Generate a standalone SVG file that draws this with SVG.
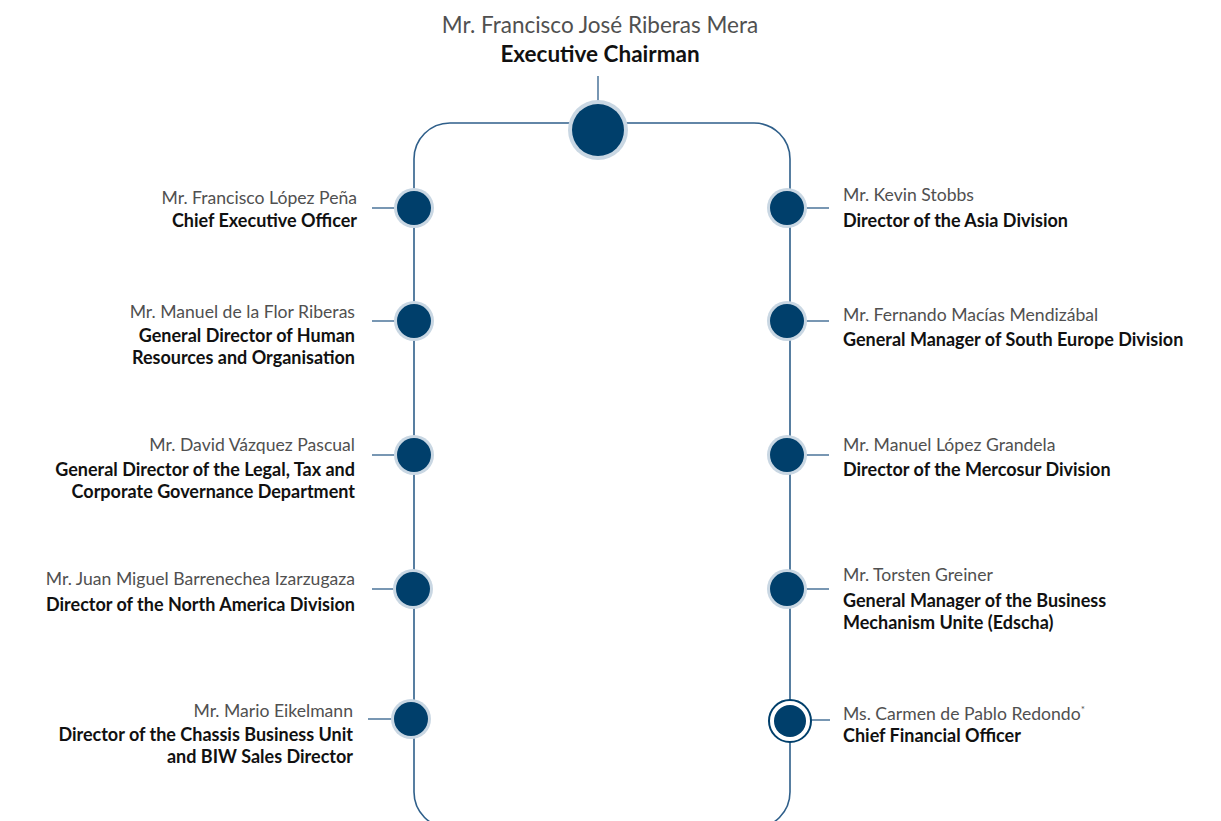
<svg xmlns="http://www.w3.org/2000/svg" width="1221" height="821" viewBox="0 0 1221 821">
  <style>
    .trunk { fill: none; stroke: #2f5f8a; stroke-width: 1.6; }
    .stub { stroke: #2f5f8a; stroke-width: 1.3; }
    .halo { fill: #c9d7e3; }
    .dot { fill: #003f6b; }
    .name { font-family: Lato, "Liberation Sans", sans-serif; font-size: 17.6px; fill: #505050; }
    .role { font-family: Lato, "Liberation Sans", sans-serif; font-size: 18px; font-weight: bold; fill: #111; }
    .l { text-anchor: end; }
    .top { text-anchor: middle; font-size: 22.5px; }
  </style>

  <!-- reporting lines -->
  <g id="connectors">
    <rect class="trunk" x="414" y="123" width="376" height="705" rx="36" ry="36"/>
    <line class="stub" x1="598" y1="76" x2="598" y2="102"/>
    <line class="stub" x1="372" y1="208" x2="398" y2="208"/>
    <line class="stub" x1="372" y1="321" x2="398" y2="321"/>
    <line class="stub" x1="372" y1="455" x2="398" y2="455"/>
    <line class="stub" x1="372" y1="589" x2="398" y2="589"/>
    <line class="stub" x1="368" y1="719" x2="394" y2="719"/>
    <line class="stub" x1="804" y1="208" x2="829" y2="208"/>
    <line class="stub" x1="804" y1="321" x2="829" y2="321"/>
    <line class="stub" x1="804" y1="455" x2="829" y2="455"/>
    <line class="stub" x1="804" y1="589" x2="829" y2="589"/>
    <line class="stub" x1="810" y1="720" x2="830" y2="720"/>
  </g>

  <g id="chairman">
    <circle class="halo" cx="598" cy="130" r="30"/>
    <circle class="dot" cx="598" cy="130" r="26"/>
    <text class="name top" x="600" y="33">Mr. Francisco José Riberas Mera</text>
    <text class="role top" x="600" y="62">Executive Chairman</text>
  </g>

  <g id="ceo">
    <circle class="halo" cx="414" cy="208" r="20"/>
    <circle class="dot" cx="414" cy="208" r="17"/>
    <text class="name l" x="357" y="204">Mr. Francisco López Peña</text>
    <text class="role l" x="357" y="227">Chief Executive Officer</text>
  </g>

  <g id="hr">
    <circle class="halo" cx="414" cy="321" r="20"/>
    <circle class="dot" cx="414" cy="321" r="17"/>
    <text class="name l" x="355" y="318">Mr. Manuel de la Flor Riberas</text>
    <text class="role l" x="355" y="342">General Director of Human</text>
    <text class="role l" x="355" y="364">Resources and Organisation</text>
  </g>

  <g id="legal">
    <circle class="halo" cx="414" cy="455" r="20"/>
    <circle class="dot" cx="414" cy="455" r="17"/>
    <text class="name l" x="355" y="451">Mr. David Vázquez Pascual</text>
    <text class="role l" x="355" y="476">General Director of the Legal, Tax and</text>
    <text class="role l" x="355" y="498">Corporate Governance Department</text>
  </g>

  <g id="north-america">
    <circle class="halo" cx="413" cy="589" r="20"/>
    <circle class="dot" cx="413" cy="589" r="17"/>
    <text class="name l" x="355" y="585">Mr. Juan Miguel Barrenechea Izarzugaza</text>
    <text class="role l" x="355" y="611">Director of the North America Division</text>
  </g>

  <g id="chassis">
    <circle class="halo" cx="411" cy="719" r="20"/>
    <circle class="dot" cx="411" cy="719" r="17"/>
    <text class="name l" x="353" y="717">Mr. Mario Eikelmann</text>
    <text class="role l" x="353" y="741">Director of the Chassis Business Unit</text>
    <text class="role l" x="353" y="763">and BIW Sales Director</text>
  </g>

  <g id="asia">
    <circle class="halo" cx="787" cy="208" r="20"/>
    <circle class="dot" cx="787" cy="208" r="17"/>
    <text class="name" x="843" y="201">Mr. Kevin Stobbs</text>
    <text class="role" x="843" y="227">Director of the Asia Division</text>
  </g>

  <g id="south-europe">
    <circle class="halo" cx="787" cy="321" r="20"/>
    <circle class="dot" cx="787" cy="321" r="17"/>
    <text class="name" x="843" y="321">Mr. Fernando Macías Mendizábal</text>
    <text class="role" x="843" y="346">General Manager of South Europe Division</text>
  </g>

  <g id="mercosur">
    <circle class="halo" cx="787" cy="455" r="20"/>
    <circle class="dot" cx="787" cy="455" r="17"/>
    <text class="name" x="843" y="451">Mr. Manuel López Grandela</text>
    <text class="role" x="843" y="476">Director of the Mercosur Division</text>
  </g>

  <g id="edscha">
    <circle class="halo" cx="787" cy="589" r="20"/>
    <circle class="dot" cx="787" cy="589" r="17"/>
    <text class="name" x="843" y="581">Mr. Torsten Greiner</text>
    <text class="role" x="843" y="607">General Manager of the Business</text>
    <text class="role" x="843" y="629">Mechanism Unite (Edscha)</text>
  </g>

  <g id="cfo">
    <circle cx="790" cy="721" r="21" fill="#fff" stroke="#003f6b" stroke-width="2"/>
    <circle class="dot" cx="790" cy="721" r="16"/>
    <text class="name" x="843" y="720">Ms. Carmen de Pablo Redondo<tspan dy="-7" font-size="10">*</tspan></text>
    <text class="role" x="843" y="742">Chief Financial Officer</text>
  </g>
</svg>
